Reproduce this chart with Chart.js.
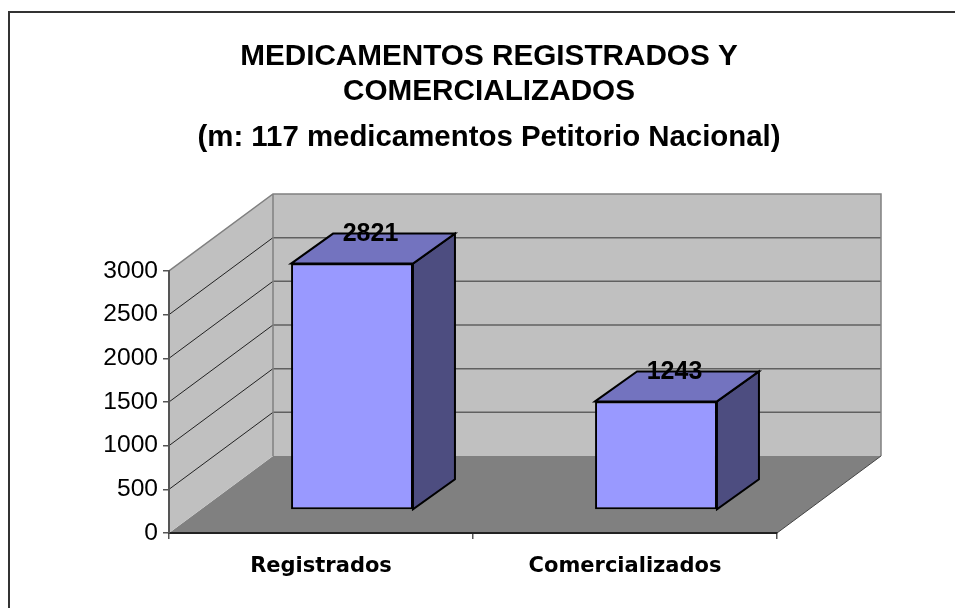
<!DOCTYPE html>
<html><head><meta charset="utf-8">
<style>html,body{margin:0;padding:0;background:#fff}#w{width:955px;height:608px}</style>
<script src="https://cdn.jsdelivr.net/npm/chart.js@4"></script></head>
<body><div id="w"><canvas id="c"></canvas></div>
<script>
const categories = ['Registrados', 'Comercializados'];
const values = [2821, 1243];
const yTicks = [0, 500, 1000, 1500, 2000, 2500, 3000];
const titleLines = ['MEDICAMENTOS REGISTRADOS Y', 'COMERCIALIZADOS'];
const subtitleLine = '(m: 117 medicamentos Petitorio Nacional)';

const DEPTH = {x: 104, y: -77};
const BAR_SHIFT = {x: 31, y: -23};
const BAR_DEPTH = {x: 42, y: -30};

function poly(ctx, pts, fill, stroke, lw) {
  ctx.beginPath();
  pts.forEach((p, i) => i ? ctx.lineTo(p[0], p[1]) : ctx.moveTo(p[0], p[1]));
  ctx.closePath();
  if (fill) { ctx.fillStyle = fill; ctx.fill(); }
  if (stroke) { ctx.strokeStyle = stroke; ctx.lineWidth = lw; ctx.lineJoin = 'miter'; ctx.stroke(); }
}

const walls = {
  id: 'walls',
  beforeDraw(chart) {
    const {ctx, chartArea: a, scales: {y}} = chart;
    const dx = DEPTH.x, dy = DEPTH.y;
    ctx.save();
    ctx.strokeStyle = '#333';
    ctx.lineWidth = 2;
    ctx.beginPath(); ctx.moveTo(9, 608); ctx.lineTo(9, 12); ctx.lineTo(955, 12); ctx.stroke();
    // floor
    poly(ctx, [[a.left, a.bottom], [a.right, a.bottom], [a.right + dx, a.bottom + dy], [a.left + dx, a.bottom + dy]], '#808080');
    // side wall
    poly(ctx, [[a.left, a.top], [a.left + dx, a.top + dy], [a.left + dx, a.bottom + dy], [a.left, a.bottom]], '#C0C0C0');
    // back wall
    poly(ctx, [[a.left + dx, a.top + dy], [a.right + dx, a.top + dy], [a.right + dx, a.bottom + dy], [a.left + dx, a.bottom + dy]], '#C0C0C0');
    // gridlines
    yTicks.slice(1, -1).forEach(v => {
      const p = y.getPixelForValue(v);
      ctx.beginPath(); ctx.moveTo(a.left, p); ctx.lineTo(a.left + dx, p + dy);
      ctx.strokeStyle = '#222'; ctx.lineWidth = 1; ctx.stroke();
      ctx.beginPath(); ctx.moveTo(a.left + dx, p + dy); ctx.lineTo(a.right + dx, p + dy);
      ctx.strokeStyle = '#606060'; ctx.lineWidth = 1.5; ctx.stroke();
    });
    // wall edges
    ctx.strokeStyle = '#808080'; ctx.lineWidth = 1.5;
    ctx.beginPath();
    ctx.moveTo(a.left, a.top); ctx.lineTo(a.left + dx, a.top + dy); ctx.lineTo(a.right + dx, a.top + dy); ctx.lineTo(a.right + dx, a.bottom + dy);
    ctx.moveTo(a.left + dx, a.top + dy); ctx.lineTo(a.left + dx, a.bottom + dy);
    ctx.stroke();
    ctx.strokeStyle = '#444'; ctx.lineWidth = 1;
    ctx.beginPath(); ctx.moveTo(a.right, a.bottom); ctx.lineTo(a.right + dx, a.bottom + dy); ctx.stroke();
    ctx.restore();
  },
  beforeDatasetDraw(chart, args) {
    const {ctx} = chart;
    ctx.save();
    ctx.translate(BAR_SHIFT.x, BAR_SHIFT.y);
    chart.getDatasetMeta(args.index).data.forEach(b => {
      const l = b.x - b.width / 2, r = b.x + b.width / 2, t = b.y, u = b.base;
      const dx = BAR_DEPTH.x, dy = BAR_DEPTH.y;
      poly(ctx, [[r, t], [r + dx, t + dy], [r + dx, u + dy], [r, u]], '#4D4D80', '#000', 2);
      poly(ctx, [[l, t], [l + dx, t + dy], [r + dx, t + dy], [r, t]], '#7373BF', '#000', 2);
    });
  },
  afterDatasetDraw(chart, args) {
    const {ctx} = chart;
    ctx.restore();
    ctx.save();
    ctx.font = 'bold 25px "Liberation Sans"';
    ctx.fillStyle = '#000';
    ctx.textAlign = 'center';
    ctx.textBaseline = 'middle';
    chart.getDatasetMeta(args.index).data.forEach((b, i) => {
      ctx.fillText(String(values[i]), b.x + BAR_SHIFT.x + 18.5, b.y + BAR_SHIFT.y - 29);
    });
    ctx.restore();
  }
};

new Chart(document.getElementById('c'), {
  type: 'bar',
  data: {
    labels: categories,
    datasets: [{
      data: values,
      backgroundColor: '#9999FF',
      borderColor: '#000',
      borderWidth: 2,
      borderSkipped: false,
      barPercentage: 0.401,
      categoryPercentage: 1,
      clip: false,
      yAxisID: 'y'
    }]
  },
  options: {
    responsive: true,
    maintainAspectRatio: false,
    animation: false,
    layout: {padding: {left: 23, right: 0, top: 39.5, bottom: 0}},
    plugins: {
      legend: {display: false},
      tooltip: {enabled: false},
      title: {
        display: true, text: titleLines, color: '#000',
        font: {family: '"Liberation Sans"', size: 29.7, weight: 'bold', lineHeight: 1.178},
        padding: 0
      },
      subtitle: {
        display: true, text: subtitleLine, color: '#000',
        font: {family: '"Liberation Sans"', size: 29.4, weight: 'bold', lineHeight: 1.19},
        padding: {top: 11, bottom: 115.5}
      }
    },
    scales: {
      x: {
        grid: {display: true, drawOnChartArea: false, drawTicks: true, tickLength: 6, offset: true, color: '#555', lineWidth: 1.5},
        border: {display: true, color: '#222', width: 2},
        ticks: {color: '#000', font: {family: '"DejaVu Sans"', size: 21, weight: 'bold'}, padding: 15, maxRotation: 0},
        afterFit(s) { s.height = 75; }
      },
      y: {
        min: 0, max: 3000,
        afterBuildTicks(s) { s.ticks = yTicks.map(v => ({value: v})); },
        grid: {display: true, drawOnChartArea: false, drawTicks: true, tickLength: 6, color: '#555', lineWidth: 1.5},
        border: {display: true, color: '#555', width: 2},
        ticks: {color: '#000', font: {family: '"Liberation Sans"', size: 24.6}, padding: 5, callback: v => String(v)},
        afterFit(s) { s.width = 146; }
      },
      yRight: {
        position: 'right', min: 0, max: 3000,
        grid: {display: false}, border: {display: false}, ticks: {display: false},
        afterFit(s) { s.width = 178; }
      }
    }
  },
  plugins: [walls]
});
</script></body></html>
